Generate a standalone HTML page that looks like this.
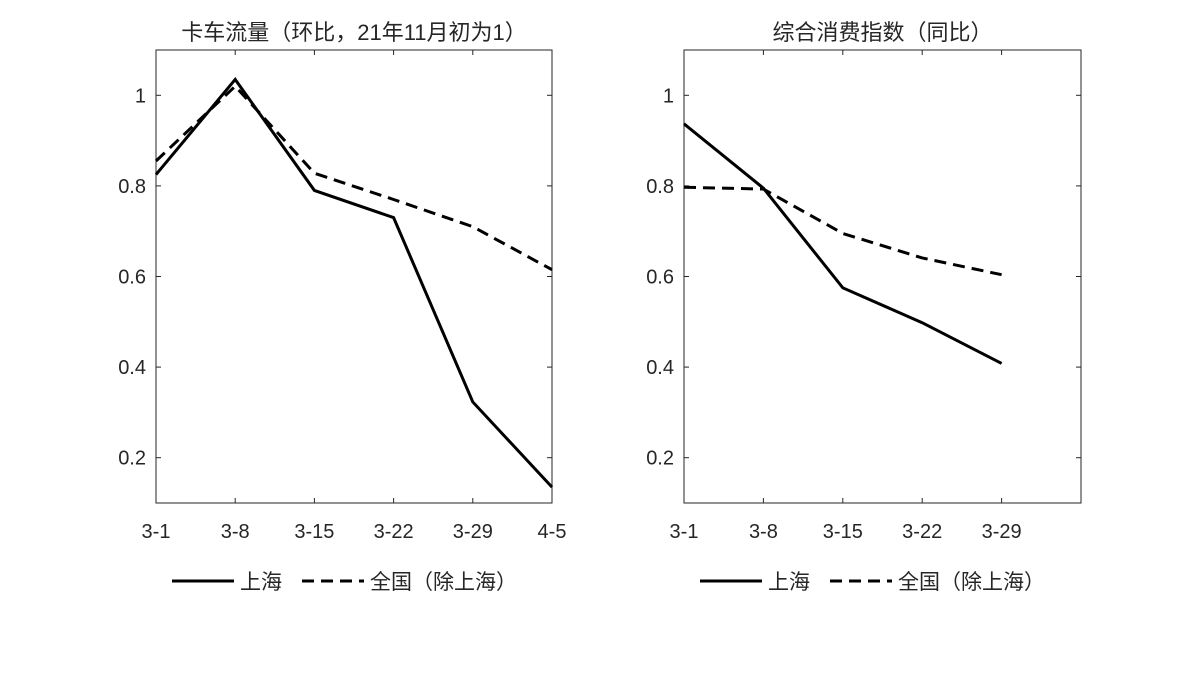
<!DOCTYPE html>
<html><head><meta charset="utf-8"><style>
body{margin:0;background:#fff;}
svg text{font-family:"Liberation Sans","Noto Sans CJK SC",sans-serif;fill:#262626;}
</style></head><body>
<svg width="1200" height="675" viewBox="0 0 1200 675">
<g id="root"></g>
</svg>
<script>
const categoriesLeft=["3-1","3-8","3-15","3-22","3-29","4-5"];
const shTruck=[0.825,1.035,0.79,0.73,0.323,0.135];
const natTruck=[0.855,1.02,0.828,0.77,0.71,0.615];
const categoriesRight=["3-1","3-8","3-15","3-22","3-29"];
const shCons=[0.937,0.795,0.575,0.498,0.408];
const natCons=[0.797,0.793,0.695,0.641,0.604];
const yTicks=[0.2,0.4,0.6,0.8,1];
const yTickLabels=["0.2","0.4","0.6","0.8","1"];
const titles=["卡车流量（环比，21年11月初为1）","综合消费指数（同比）"];
const seriesNames=["上海","全国（除上海）"];

const NS="http://www.w3.org/2000/svg";
const root=document.getElementById('root');
function mk(t,a,p){const e=document.createElementNS(NS,t);for(const k in a)e.setAttribute(k,a[k]);(p||root).appendChild(e);return e;}
function panel(x0,x1,cats,s1,s2,title,nm){
  const g=mk('g',{});
  
  
  const y0=50,y1=503,ymin=0.1,ymax=1.1;
  const X=i=>x0+(x1-x0)*i/5, Y=v=>y1-(v-ymin)/(ymax-ymin)*(y1-y0);
  const box=mk('rect',{x:x0,y:y0,width:x1-x0,height:y1-y0,fill:'none',stroke:'#262626','stroke-width':1},g);
  
  
  yTicks.forEach((v,i)=>{
    mk('line',{x1:x0,x2:x0+5,y1:Y(v),y2:Y(v),stroke:'#262626'},g);
    mk('line',{x1:x1,x2:x1-5,y1:Y(v),y2:Y(v),stroke:'#262626'},g);
    const t=mk('text',{x:x0-10,y:Y(v)+7,'text-anchor':'end','font-size':20},g);
    t.textContent=yTickLabels[i];
    
    
  });
  for(let i=0;i<=5;i++){
    mk('line',{x1:X(i),x2:X(i),y1:y1,y2:y1-5,stroke:'#262626'},g);
    mk('line',{x1:X(i),x2:X(i),y1:y0,y2:y0+5,stroke:'#262626'},g);
  }
  cats.forEach((c,i)=>{
    const t=mk('text',{x:X(i),y:538,'text-anchor':'middle','font-size':20},g);
    t.textContent=c;
    
    
  });
  const tt=mk('text',{x:(x0+x1)/2,y:40,'text-anchor':'middle','font-size':22},g);
  tt.textContent=title;
  
  
  const p1=mk('polyline',{points:s1.map((v,i)=>X(i)+','+Y(v)).join(' '),fill:'none',stroke:'#000','stroke-width':3},g);
  
  
  const p2=mk('polyline',{points:s2.map((v,i)=>X(i)+','+Y(v)).join(' '),fill:'none',stroke:'#000','stroke-width':3,'stroke-dasharray':'12,7'},g);
  
  
  const lx=x0+16, ly=581;
  const lg=mk('g',{},g);
  
  
  mk('line',{x1:lx,x2:lx+62,y1:ly,y2:ly,stroke:'#000','stroke-width':3},lg);
  const t1=mk('text',{x:lx+68,y:ly+8,'font-size':21},lg);t1.textContent=seriesNames[0];
  
  
  mk('line',{x1:lx+130,x2:lx+192,y1:ly,y2:ly,stroke:'#000','stroke-width':3,'stroke-dasharray':'12,7'},lg);
  const t2=mk('text',{x:lx+198,y:ly+8,'font-size':21},lg);t2.textContent=seriesNames[1];
  
  
}
panel(156,552,categoriesLeft,shTruck,natTruck,titles[0],'truck-flow-panel');
panel(684,1081,categoriesRight,shCons,natCons,titles[1],'consumption-index-panel');
</script>
</body></html>
